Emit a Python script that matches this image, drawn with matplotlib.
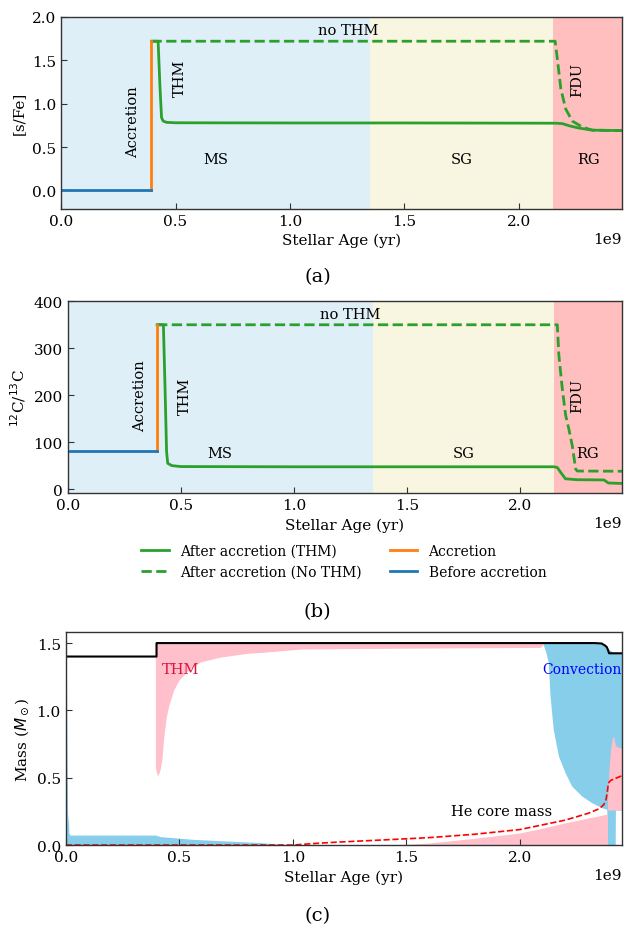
import numpy as np
import matplotlib
matplotlib.use("Agg")
import matplotlib.pyplot as plt

plt.rcParams['font.family'] = ['DejaVu Serif']
plt.rcParams['mathtext.fontset'] = 'dejavusans'
plt.rcParams['xtick.direction'] = 'in'
plt.rcParams['ytick.direction'] = 'in'

# ---------------- evolutionary phases ----------------
phase_names = ['MS', 'SG', 'RG']
phase_edges = [0.0, 1.35e9, 2.15e9, 2.45e9]
phase_colors = ['#dfeff8', '#f8f6e0', '#ffbfbf']

# ---------------- [s/Fe] ----------------
sfe_before_age = np.array([0.0, 0.395]) * 1e9
sfe_before = [0.01, 0.01]
sfe_accr_age = np.array([0.395, 0.395]) * 1e9
sfe_accr = [0.01, 1.72]
sfe_thm_age = np.array([0.395, 0.424, 0.432, 0.439, 0.446, 0.461, 0.5, 1.0, 1.5,
                        2.0, 2.16, 2.19, 2.22, 2.26, 2.32, 2.45]) * 1e9
sfe_thm = [1.72, 1.72, 1.2, 0.84, 0.80, 0.785, 0.78, 0.778, 0.778,
           0.776, 0.775, 0.77, 0.745, 0.72, 0.695, 0.69]
sfe_nothm_age = np.array([0.395, 2.158, 2.167, 2.183, 2.204, 2.233, 2.277,
                          2.32, 2.45]) * 1e9
sfe_nothm = [1.72, 1.72, 1.53, 1.17, 0.94, 0.80, 0.73, 0.695, 0.69]

# ---------------- 12C/13C ----------------
cc_before_age = np.array([0.0, 0.395]) * 1e9
cc_before = [82, 82]
cc_accr_age = np.array([0.395, 0.395]) * 1e9
cc_accr = [82, 350]
cc_thm_age = np.array([0.395, 0.423, 0.431, 0.437, 0.442, 0.46, 0.5, 1.0, 1.5,
                       2.0, 2.15, 2.164, 2.18, 2.2, 2.25, 2.37, 2.39, 2.45]) * 1e9
cc_thm = [350, 350, 200, 80, 55, 50, 48, 47.5, 47.5,
          47.5, 47.5, 46, 35, 22, 20, 19.5, 13, 12]
cc_nothm_age = np.array([0.395, 2.164, 2.171, 2.186, 2.201, 2.215, 2.230,
                         2.245, 2.252, 2.45]) * 1e9
cc_nothm = [350, 350, 285, 214, 157, 128, 93, 43, 38.5, 38]

# ---------------- structure (Kippenhahn) ----------------
star_age = np.array([0.0, 0.4, 0.4, 2.33, 2.36, 2.376, 2.383, 2.388,
                     2.393, 2.45]) * 1e9
star_mass = [1.4, 1.4, 1.5, 1.5, 1.497, 1.481, 1.47, 1.45, 1.424, 1.424]

thm_age = np.array([0.395, 0.399, 0.403, 0.407, 0.412, 0.417, 0.424, 0.431,
                    0.443, 0.453, 0.475, 0.497, 0.534, 0.593, 0.682, 0.80,
                    0.86, 1.04, 1.5, 2.09, 2.103]) * 1e9
thm_bottom = [0.58, 0.54, 0.52, 0.52, 0.54, 0.57, 0.64, 0.79,
              0.95, 1.03, 1.15, 1.22, 1.29, 1.36, 1.396, 1.424,
              1.43, 1.456, 1.462, 1.468, 1.49]

core_age = np.array([0.0, 0.003, 0.006, 0.009, 0.0115, 0.014, 0.019, 0.395,
                     0.417, 0.564, 0.711, 0.859, 0.991]) * 1e9
core_top = [1.4, 1.35, 0.6, 0.15, 0.228, 0.09, 0.074, 0.074,
            0.0625, 0.042, 0.03, 0.018, 0.0]

env_age = np.array([2.103, 2.115, 2.125, 2.133, 2.147, 2.17, 2.199, 2.228,
                    2.272, 2.316, 2.361, 2.383, 2.386, 2.42, 2.421, 2.45]) * 1e9
env_bottom = [1.49, 1.43, 1.357, 1.109, 0.861, 0.662, 0.539, 0.439,
              0.365, 0.315, 0.278, 0.266, 0.0, 0.0, 0.26, 0.26]

core_thm_age = np.array([1.45, 1.6, 1.8, 2.0, 2.1, 2.2, 2.3, 2.386]) * 1e9
core_thm_top = [0.0, 0.015, 0.05, 0.09, 0.125, 0.165, 0.2, 0.23]

tip_age = np.array([2.386, 2.392, 2.40, 2.408, 2.413, 2.418, 2.425, 2.45]) * 1e9
tip_top = [0.3, 0.55, 0.72, 0.80, 0.81, 0.76, 0.73, 0.72]
tip_bottom = [0.26, 0.26, 0.26, 0.26, 0.26, 0.26, 0.26, 0.26]

he_age = np.array([0.0, 1.0, 1.1, 1.2, 1.3, 1.4, 1.6, 1.8, 2.0, 2.1, 2.2,
                   2.3, 2.35, 2.37, 2.38, 2.385, 2.39, 2.40, 2.45]) * 1e9
he_mass = [0.0, 0.0, 0.012, 0.022, 0.03, 0.038, 0.055, 0.08, 0.115, 0.15,
           0.185, 0.235, 0.27, 0.30, 0.34, 0.39, 0.46, 0.48, 0.515]

xmax = 2.45e9
spine_color = '0.2'
tick_fs = 11
text_fs = 10.5

fig = plt.figure(figsize=(6.24, 9.29), dpi=100)


def style_axes(ax):
    for s in ax.spines.values():
        s.set_color(spine_color)
        s.set_linewidth(1.0)
    ax.tick_params(labelsize=tick_fs, length=4, color=spine_color,
                   top=False, right=False)
    ax.set_xlim(0, xmax)
    ax.set_xticks(np.arange(0, 2.01e9, 0.5e9))
    ax.set_xlabel('Stellar Age (yr)', fontsize=tick_fs, labelpad=4)
    ax.xaxis.get_offset_text().set_fontsize(tick_fs)


def abundance_panel(ax, before, accr, thm, nothm):
    for (lo, hi), c in zip(zip(phase_edges[:-1], phase_edges[1:]), phase_colors):
        ax.axvspan(lo, hi, color=c, lw=0, zorder=0)
    ax.plot(*thm, color='tab:green', lw=2, label='After accretion (THM)')
    ax.plot(*nothm, color='tab:green', lw=2, ls='--',
            label='After accretion (No THM)')
    ax.plot(*accr, color='tab:orange', lw=2, label='Accretion')
    ax.plot(*before, color='tab:blue', lw=2, label='Before accretion')
    style_axes(ax)


# (a) [s/Fe]
ax_a = fig.add_axes([0.0978, 0.7743, 0.899, 0.2064])
abundance_panel(ax_a, (sfe_before_age, sfe_before), (sfe_accr_age, sfe_accr),
                (sfe_thm_age, sfe_thm), (sfe_nothm_age, sfe_nothm))
ax_a.set_ylim(-0.21, 2.0)
ax_a.set_yticks([0.0, 0.5, 1.0, 1.5, 2.0])
ax_a.set_ylabel('[s/Fe]', fontsize=tick_fs)
ax_a.text(1.254e9, 1.85, 'no THM', fontsize=text_fs, ha='center', va='center')
for name, x in zip(phase_names, [0.675e9, 1.752e9, 2.305e9]):
    ax_a.text(x, 0.36, name, fontsize=text_fs, ha='center', va='center')
ax_a.text(0.315e9, 0.80, 'Accretion', rotation=90, fontsize=text_fs,
          ha='center', va='center')
ax_a.text(0.52e9, 1.30, 'THM', rotation=90, fontsize=text_fs,
          ha='center', va='center')
ax_a.text(2.255e9, 1.28, 'FDU', rotation=90, fontsize=text_fs,
          ha='center', va='center')

# (b) 12C/13C
ax_b = fig.add_axes([0.1085, 0.4679, 0.8883, 0.2067])
abundance_panel(ax_b, (cc_before_age, cc_before), (cc_accr_age, cc_accr),
                (cc_thm_age, cc_thm), (cc_nothm_age, cc_nothm))
ax_b.set_ylim(-9, 400)
ax_b.set_yticks([0, 100, 200, 300, 400])
ax_b.set_ylabel(r'$^{12}$C/$^{13}$C', fontsize=tick_fs)
ax_b.text(1.247e9, 372, 'no THM', fontsize=text_fs, ha='center', va='center')
for name, x in zip(phase_names, [0.672e9, 1.75e9, 2.298e9]):
    ax_b.text(x, 76, name, fontsize=text_fs, ha='center', va='center')
ax_b.text(0.319e9, 200, 'Accretion', rotation=90, fontsize=text_fs,
          ha='center', va='center')
ax_b.text(0.518e9, 200, 'THM', rotation=90, fontsize=text_fs,
          ha='center', va='center')
ax_b.text(2.25e9, 200, 'FDU', rotation=90, fontsize=text_fs,
          ha='center', va='center')

handles, labels = ax_b.get_legend_handles_labels()
fig.legend(handles, labels, loc='center', bbox_to_anchor=(0.551, 0.395),
           ncol=2, frameon=False, fontsize=10)

# (c) structure
ax_c = fig.add_axes([0.1053, 0.0893, 0.8915, 0.229])
pink = 'pink'
blue = 'skyblue'
thm_top = np.full(len(thm_age), 1.5)
ax_c.fill_between(thm_age, thm_bottom, thm_top, color=pink, lw=0)
ax_c.fill_between(core_age, 0, core_top, color=blue, lw=0)
env_top = np.interp(env_age, star_age, star_mass)
ax_c.fill_between(env_age, env_bottom, env_top, color=blue, lw=0)
ax_c.fill_between(core_thm_age, 0, core_thm_top, color=pink, lw=0)
ax_c.fill_between(tip_age, tip_bottom, tip_top, color=pink, lw=0)
ax_c.plot(star_age, star_mass, color='black', lw=1.5)
ax_c.plot(he_age, he_mass, color='red', lw=1.2, ls='--')
ax_c.set_ylim(0, 1.58)
ax_c.set_yticks([0.0, 0.5, 1.0, 1.5])
ax_c.set_ylabel(r'Mass ($M_\odot$)', fontsize=tick_fs)
style_axes(ax_c)
ax_c.text(0.4255e9, 1.307, 'THM', color='crimson', fontsize=text_fs,
          ha='left', va='center')
ax_c.text(2.098e9, 1.307, 'Convection', color='blue', fontsize=10,
          ha='left', va='center')
ax_c.text(1.919e9, 0.253, 'He core mass', fontsize=text_fs,
          ha='center', va='center')

# panel captions
for lab, y in zip(['(a)', '(b)', '(c)'], [277, 612, 916]):
    fig.text(317.5 / 624, 1 - y / 929, lab, fontsize=14,
             ha='center', va='center')

fig.savefig('out.png', dpi=100)
